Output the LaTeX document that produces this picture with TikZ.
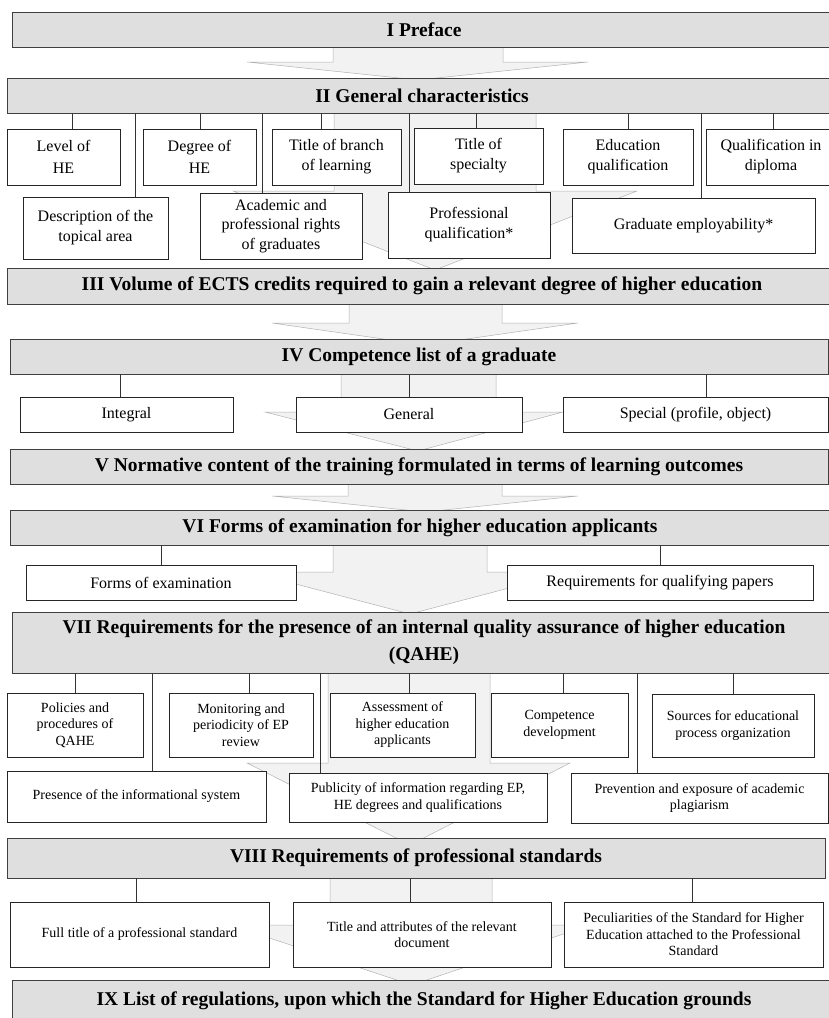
\documentclass[tikz,border=0pt]{standalone}
\usepackage{fontspec}
\setmainfont{Liberation Serif}
\usetikzlibrary{positioning, backgrounds}

\begin{document}
\begin{tikzpicture}[x=1pt, y=-1pt,
    headbar/.style={draw=black!75, fill=gray!25, line width=0.8pt, inner sep=0pt,
                    align=center, font=\fontsize{19.5}{27}\selectfont\bfseries},
    item/.style={draw=black!85, fill=white, line width=0.6pt, inner sep=1pt,
                 align=center, font=\fontsize{16}{20}\selectfont},
    smallitem/.style={item, font=\fontsize{14}{16.5}\selectfont},
    link/.style={draw=black!80, line width=0.6pt},
    flow/.style={fill=gray!10, draw=gray!60, line width=0.5pt}]

    \useasboundingbox (0,0) rectangle (829,1018);
    \clip (0,0) rectangle (829,1018);

    % Section bars
    \node[headbar, minimum width=824pt, minimum height=35pt] (pref) at (424,29.5) {I Preface};
    \node[headbar, minimum width=830pt, minimum height=35pt] (gen) at (422,95.5) {II General characteristics};
    \node[headbar, minimum width=830pt, minimum height=36pt] (ects) at (422,286) {III Volume of ECTS credits required to gain a relevant degree of higher education};
    \node[headbar, minimum width=818pt, minimum height=35pt] (comp) at (419,356.5) {IV Competence list of a graduate};
    \node[headbar, minimum width=818pt, minimum height=35pt] (norm) at (419,466.5) {V Normative content of the training formulated in terms of learning outcomes};
    \node[headbar, minimum width=820pt, minimum height=35pt] (exam) at (420,527.5) {VI Forms of examination for higher education applicants};
    \node[headbar, minimum width=824pt, minimum height=61pt] (qahe) at (424,642.5) {VII Requirements for the presence of an internal quality assurance of higher education\\(QAHE)};
    \node[headbar, minimum width=818pt, minimum height=40pt] (prof) at (416,858) {VIII Requirements of professional standards};
    \node[headbar, minimum width=824pt, minimum height=42pt] (regs) at (424,1001) {IX List of regulations, upon which the Standard for Higher Education grounds};

    % II General characteristics
    \node[item, font=\fontsize{16}{22}\selectfont, minimum width=113pt, minimum height=56pt] (lvl) at (63.5,157) {Level of\\HE};
    \node[item, font=\fontsize{16}{22}\selectfont, minimum width=113pt, minimum height=56pt] (deg) at (199.5,157) {Degree of\\HE};
    \node[item, minimum width=129pt, minimum height=56pt] (branch) at (336.5,157) {Title of branch\\of learning};
    \node[item, minimum width=129pt, minimum height=56pt] (spec) at (478.5,156) {Title of\\specialty};
    \node[item, minimum width=130pt, minimum height=56pt] (eduq) at (628,157) {Education\\qualification};
    \node[item, minimum width=130pt, minimum height=56pt] (diploma) at (771,157) {Qualification in\\diploma};
    \node[item, minimum width=145pt, minimum height=62pt] (desc) at (95.5,228) {Description of the\\topical area};
    \node[item, font=\fontsize{16}{19.5}\selectfont, minimum width=162pt, minimum height=66pt] (acad) at (281,226) {Academic and\\professional rights\\of graduates};
    \node[item, minimum width=162pt, minimum height=66pt] (profq) at (469,225) {Professional\\qualification*};
    \node[item, minimum width=243pt, minimum height=55pt] (empl) at (693.5,225.5) {Graduate employability*};

    % IV Competence list
    \node[item, minimum width=213pt, minimum height=35pt] (integ) at (126.5,414.5) {Integral};
    \node[item, minimum width=226pt, minimum height=35pt] (gener) at (409,414.5) {General};
    \node[item, minimum width=265pt, minimum height=35pt] (special) at (695.5,414.5) {Special (profile, object)};

    % VI Forms of examination
    \node[item, minimum width=270pt, minimum height=35pt] (forms) at (161,582.5) {Forms of examination};
    \node[item, minimum width=306pt, minimum height=35pt] (reqp) at (660,582.5) {Requirements for qualifying papers};

    % VII Quality assurance
    \node[smallitem, minimum width=136pt, minimum height=64pt] (pol) at (75,725) {Policies and\\procedures of\\QAHE};
    \node[smallitem, minimum width=144pt, minimum height=64pt] (mon) at (241,725) {Monitoring and\\periodicity of EP\\review};
    \node[smallitem, minimum width=145pt, minimum height=64pt] (assess) at (402.5,725) {Assessment of\\higher education\\applicants};
    \node[smallitem, minimum width=137pt, minimum height=64pt] (compdev) at (559.5,725) {Competence\\development};
    \node[smallitem, minimum width=162pt, minimum height=63pt] (src) at (733,725.5) {Sources for educational\\process organization};
    \node[smallitem, minimum width=259pt, minimum height=51pt] (infsys) at (136.5,796.5) {Presence of the informational system};
    \node[smallitem, minimum width=258pt, minimum height=49pt] (public) at (418,797.5) {Publicity of information regarding EP,\\HE degrees and qualifications};
    \node[smallitem, minimum width=257pt, minimum height=50pt] (plag) at (699.5,798) {Prevention and exposure of academic\\plagiarism};

    % VIII Professional standards
    \node[smallitem, minimum width=259pt, minimum height=65pt] (fulltitle) at (139.5,934.5) {Full title of a professional standard};
    \node[smallitem, minimum width=258pt, minimum height=65pt] (titleattr) at (422,934.5) {Title and attributes of the relevant\\document};
    \node[smallitem, minimum width=259pt, minimum height=65pt] (pecul) at (693.5,934.5) {Peculiarities of the Standard for Higher\\Education attached to the Professional\\Standard};

    % Links from bars to items
    \foreach \n/\dx in {lvl/8.5, deg/0.5, branch/-15.5, spec/-2.5, eduq/0, diploma/2,
                        desc/39.5, acad/-19, profq/-60, empl/7.5}
      \draw[link] ([xshift=\dx pt]\n.north) -- ([xshift=\dx pt]\n.north |- gen.south);
    \foreach \n/\dx in {integ/-6.5, gener/0, special/10.5}
      \draw[link] ([xshift=\dx pt]\n.north) -- ([xshift=\dx pt]\n.north |- comp.south);
    \foreach \n/\dx in {forms/0, reqp/0}
      \draw[link] ([xshift=\dx pt]\n.north) -- ([xshift=\dx pt]\n.north |- exam.south);
    \foreach \n/\dx in {pol/0, mon/8, assess/6.5, compdev/3.5, src/0,
                        infsys/15.5, public/-98, plag/-62.5}
      \draw[link] ([xshift=\dx pt]\n.north) -- ([xshift=\dx pt]\n.north |- qahe.south);
    \foreach \n/\dx in {fulltitle/-3.5, titleattr/-12, pecul/-1.5}
      \draw[link] ([xshift=\dx pt]\n.north) -- ([xshift=\dx pt]\n.north |- prof.south);

    % Flow arrows between bars
    \begin{scope}[on background layer]
      \foreach \t/\sl/\sr/\hy/\hl/\hr/\tx/\ty in {
          45/333/503/62/247/588/418/80,
          111/334/536/191/233/637/435/270,
          302/349/502/323/272/578/425/345,
          372/341/496/412/265/563/418/451,
          482/348/502/496/272/578/425/512,
          543/333/487/572/250/570/410/614,
          671/328/490/763/247/570/410/845,
          876/330/492/925/230/590/412/985}
        \draw[flow] (\sl,\t) -- (\sl,\hy) -- (\hl,\hy) -- (\tx,\ty)
                    -- (\hr,\hy) -- (\sr,\hy) -- (\sr,\t);
    \end{scope}
\end{tikzpicture}
\end{document}
